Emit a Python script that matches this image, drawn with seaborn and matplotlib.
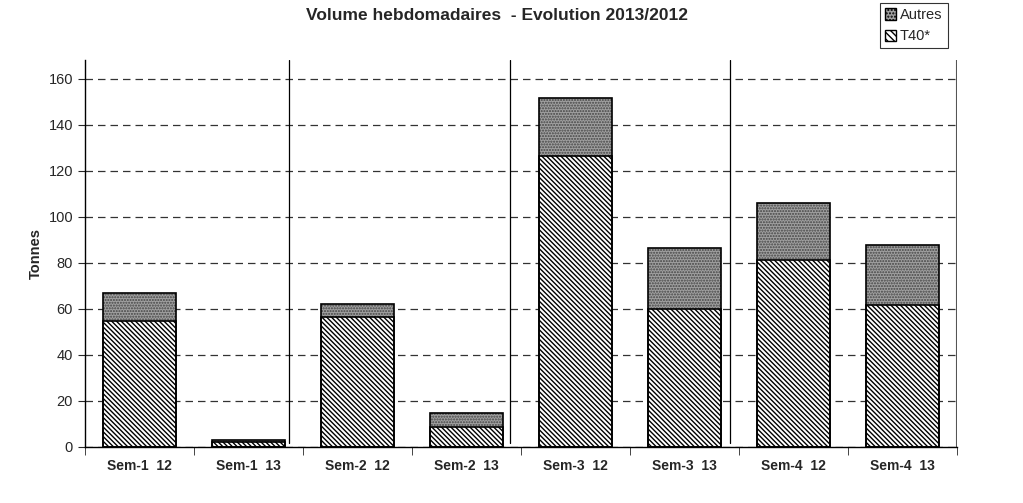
import matplotlib
matplotlib.use("Agg")
import matplotlib.pyplot as plt
import seaborn as sns
import pandas as pd
from matplotlib.patches import Patch

# Data
semaines = ['Sem-1  12', 'Sem-1  13', 'Sem-2  12', 'Sem-2  13',
            'Sem-3  12', 'Sem-3  13', 'Sem-4  12', 'Sem-4  13']
t40 = [54.5, 2, 56.5, 8.5, 126.5, 60, 81, 61.5]
autres = [12.5, 1, 5.5, 6, 25, 26.5, 25, 26]
total = [a + b for a, b in zip(t40, autres)]
df = pd.DataFrame({'Semaine': semaines, 'T40': t40, 'Total': total})

sns.set_style("white")
plt.rcParams['font.family'] = ['Liberation Sans', 'DejaVu Sans']
plt.rcParams['hatch.linewidth'] = 1.0

fig, ax = plt.subplots(figsize=(10.23, 5.03), dpi=100)
fig.subplots_adjust(left=0.083, right=0.935, top=0.88, bottom=0.112)

w = 0.67
# Autres (gray dotted) drawn as total, T40 on top
sns.barplot(data=df, x='Semaine', y='Total', color='#a0a0a0', hatch='......',
            edgecolor='#444444', linewidth=0, width=w, ax=ax, saturation=1)
sns.barplot(data=df, x='Semaine', y='T40', color='white', hatch='\\\\\\\\\\\\\\',
            edgecolor='black', linewidth=0, width=w, ax=ax, saturation=1)
# outlines
ax.bar(range(len(semaines)), total, width=w, fill=False, edgecolor='black', linewidth=1.2)
ax.bar(range(len(semaines)), t40, width=w, fill=False, edgecolor='black', linewidth=1.2)

ax.set_xlim(-0.5, 7.5)
ax.set_ylim(0, 168)
ax.set_yticks(range(0, 161, 20))
ax.yaxis.grid(True, linestyle=(0, (6, 4)), color='#333333', linewidth=0.9)
ax.set_axisbelow(True)
for s in ['top', 'right']:
    ax.spines[s].set_visible(False)
for s in ['left', 'bottom']:
    ax.spines[s].set_color('black')
    ax.spines[s].set_linewidth(1)

# group separators
for xs in [1.37, 3.4, 5.42]:
    ax.axvline(xs, ymin=0.01, ymax=1, color='black', linewidth=0.9)
ax.axvline(7.5, color='#555555', linewidth=1.5)

ax.set_xticks(range(len(semaines)))
ax.set_xticklabels(semaines, fontweight='bold', fontsize=10)
ax.set_xticks([i + 0.5 for i in range(-1, 8)], minor=True)
ax.tick_params(axis='x', which='major', length=0, pad=9)
ax.tick_params(axis='x', which='minor', length=6, direction='out', bottom=True)
ax.tick_params(axis='y', length=5, direction='out', left=True, labelsize=10.5)
ax.set_xlabel('')
ax.set_ylabel('Tonnes', fontweight='bold', fontsize=10.5)

fig.suptitle('Volume hebdomadaires  - Evolution 2013/2012', fontweight='bold',
             fontsize=12.5, x=0.486, y=0.985)

handles = [Patch(facecolor='#a0a0a0', edgecolor='black', hatch='.....', label='Autres'),
           Patch(facecolor='white', edgecolor='black', hatch='\\\\\\\\\\', label='T40*')]
leg = fig.legend(handles=handles, loc='upper left', bbox_to_anchor=(0.857, 1.0),
                 frameon=True, fancybox=False, edgecolor='black', fontsize=10.5,
                 handlelength=0.8, handleheight=0.8, handletextpad=0.25,
                 borderpad=0.35, labelspacing=0.5, borderaxespad=0.2)
leg.get_frame().set_linewidth(0.8)

fig.savefig('out.png', dpi=100)
